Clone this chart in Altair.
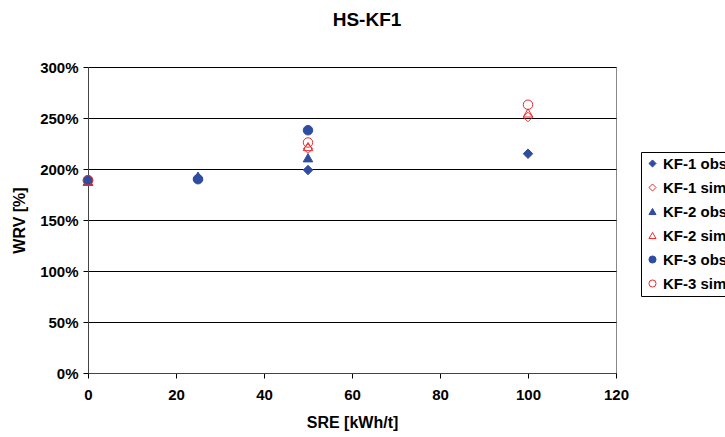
import altair as alt
import pandas as pd

sre = [0, 25, 50, 100]
series_names = ["KF-1 obs", "KF-1 sim", "KF-2 obs", "KF-2 sim", "KF-3 obs", "KF-3 sim"]
kf1_obs = [1.89, 1.91, 1.99, 2.15]
kf1_sim = [1.88, None, 2.20, 2.51]
kf2_obs = [1.88, 1.93, 2.11, None]
kf2_sim = [1.88, None, 2.22, 2.55]
kf3_obs = [1.89, 1.90, 2.38, None]
kf3_sim = [1.89, None, 2.26, 2.63]

values = [kf1_obs, kf1_sim, kf2_obs, kf2_sim, kf3_obs, kf3_sim]
rows = []
for name, vals in zip(series_names, values):
    for x, v in zip(sre, vals):
        if v is not None:
            rows.append({"SRE": x, "WRV": v, "series": name})
df = pd.DataFrame(rows)

BLUE = "#2f4da0"
RED = "#f02828"
shapes = ["diamond", "diamond", "triangle-up", "triangle-up", "circle", "circle"]
strokes = [BLUE, RED, BLUE, RED, BLUE, RED]
fills = [BLUE, "transparent", BLUE, "transparent", BLUE, "transparent"]

FONT = "Liberation Sans"

legend = alt.Legend(
    title=None,
    orient="none",
    legendX=553,
    legendY=85,
    strokeColor="#000000",
    padding=4,
    labelFont=FONT,
    labelFontSize=15,
    labelFontWeight="bold",
    labelColor="#000000",
    symbolSize=50,
    symbolStrokeWidth=1,
    rowPadding=8,
    labelOffset=3,
    fillColor="white",
)

points = alt.Chart(df).mark_point(size=90, opacity=1, strokeWidth=1).encode(
    x=alt.X("SRE:Q", title="SRE [kWh/t]",
            scale=alt.Scale(domain=[0, 120], nice=False),
            axis=alt.Axis(values=[0, 20, 40, 60, 80, 100, 120], grid=False, labelFlush=False)),
    y=alt.Y("WRV:Q", title="WRV [%]",
            scale=alt.Scale(domain=[0, 3], nice=False),
            axis=alt.Axis(values=[0, 0.5, 1, 1.5, 2, 2.5, 3], format=".0%",
                          grid=True, gridColor="#000000", gridWidth=1, labelFlush=False)),
    shape=alt.Shape("series:N", scale=alt.Scale(domain=series_names, range=shapes), legend=legend),
    stroke=alt.Stroke("series:N", scale=alt.Scale(domain=series_names, range=strokes), legend=legend),
    fill=alt.Fill("series:N", scale=alt.Scale(domain=series_names, range=fills), legend=legend),
)

chart = points.properties(
    width=528,
    height=306,
    title=alt.Title("HS-KF1", font=FONT, fontSize=19, fontWeight="bold", color="#000000",
                    offset=30, dx=15),
    autosize=alt.AutoSizeParams(type="none"),
    padding={"left": 88, "top": 67, "right": 109, "bottom": 64},
).configure_view(
    stroke="#888888", strokeWidth=1
).configure_axis(
    labelFont=FONT, labelFontSize=15, labelFontWeight="bold", labelColor="#000000",
    titleFont=FONT, titleFontSize=16, titleFontWeight="bold", titleColor="#000000",
    domainColor="#444444", tickColor="#000000", tickSize=5, labelPadding=5,
).configure_axisX(
    titlePadding=12, labelPadding=9,
).configure_axisY(
    titlePadding=12,
)

chart.save("out.html", embed_options={"renderer": "svg", "actions": False})
